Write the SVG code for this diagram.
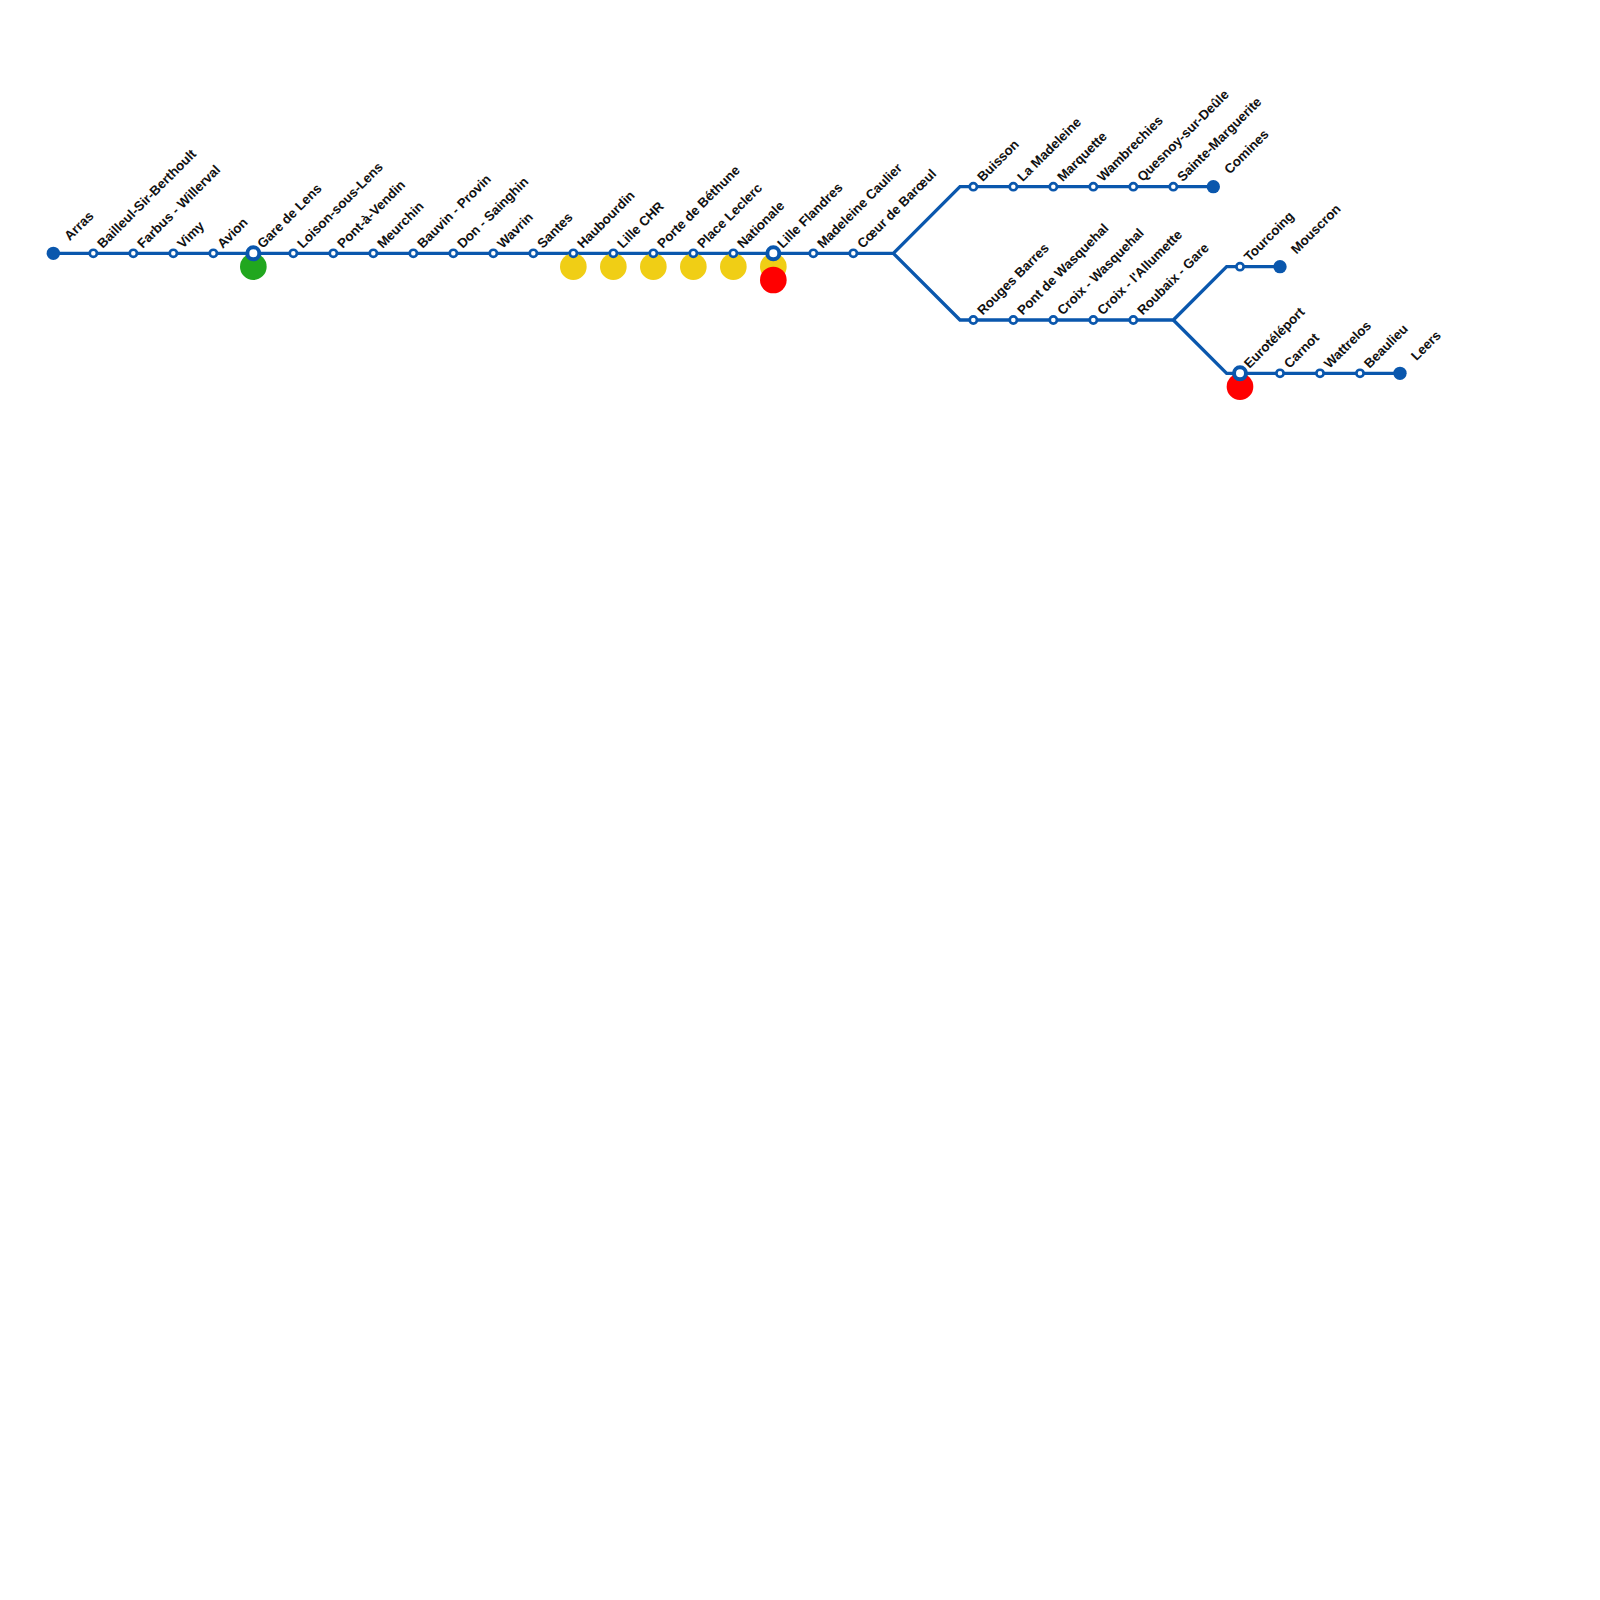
<svg xmlns="http://www.w3.org/2000/svg" width="1600" height="1600" viewBox="0 0 1600 1600">
<style>
.l{fill:none;stroke:#0a57ad;stroke-width:3.33;stroke-linejoin:miter}
.s{fill:#fff;stroke:#0a57ad;stroke-width:2.67}
.h{fill:#fff;stroke:#0a57ad;stroke-width:4}
.t{fill:#0a57ad}
text{font-family:"Liberation Sans",Arial,sans-serif;font-size:13.33px;font-weight:bold;fill:#111;text-rendering:geometricPrecision;opacity:.999}
</style>
<rect width="1600" height="1600" fill="#fff"/>
<g id="connectors">
<path class="l" d="M53.33 253.33H893.33L960 186.67H1213.33"/>
<path class="l" d="M893.33 253.33L960 320H1173.33L1226.67 266.67H1280"/>
<path class="l" d="M1173.33 320L1226.67 373.33H1400"/>
</g>
<g id="transfers">
<circle cx="253.33" cy="266.67" r="13.33" fill="#21a71f"/>
<circle cx="573.33" cy="266.67" r="13.33" fill="#f0ce15"/>
<circle cx="613.33" cy="266.67" r="13.33" fill="#f0ce15"/>
<circle cx="653.33" cy="266.67" r="13.33" fill="#f0ce15"/>
<circle cx="693.33" cy="266.67" r="13.33" fill="#f0ce15"/>
<circle cx="733.33" cy="266.67" r="13.33" fill="#f0ce15"/>
<circle cx="773.33" cy="266.67" r="13.33" fill="#f0ce15"/>
<circle cx="773.33" cy="280" r="13.33" fill="#ff0000"/>
<circle cx="1240" cy="386.67" r="13.33" fill="#ff0000"/>
</g>
<g id="n1"><circle class="t" cx="53.33" cy="253.33" r="6.67"/><text transform="translate(69.8 241.3) rotate(-45)">Arras</text></g>
<g id="n2"><circle class="s" cx="93.33" cy="253.33" r="3.6"/><text transform="translate(102.7 249) rotate(-45)">Bailleul-Sir-Berthoult</text></g>
<g id="n3"><circle class="s" cx="133.33" cy="253.33" r="3.6"/><text transform="translate(142.7 249) rotate(-45)">Farbus - Willerval</text></g>
<g id="n4"><circle class="s" cx="173.33" cy="253.33" r="3.6"/><text transform="translate(182.7 249) rotate(-45)">Vimy</text></g>
<g id="n5"><circle class="s" cx="213.33" cy="253.33" r="3.6"/><text transform="translate(222.7 249) rotate(-45)">Avion</text></g>
<g id="n6"><circle class="h" cx="253.33" cy="253.33" r="6"/><text transform="translate(262.7 249) rotate(-45)">Gare de Lens</text></g>
<g id="n7"><circle class="s" cx="293.33" cy="253.33" r="3.6"/><text transform="translate(302.7 249) rotate(-45)">Loison-sous-Lens</text></g>
<g id="n8"><circle class="s" cx="333.33" cy="253.33" r="3.6"/><text transform="translate(342.7 249) rotate(-45)">Pont-à-Vendin</text></g>
<g id="n9"><circle class="s" cx="373.33" cy="253.33" r="3.6"/><text transform="translate(382.7 249) rotate(-45)">Meurchin</text></g>
<g id="n10"><circle class="s" cx="413.33" cy="253.33" r="3.6"/><text transform="translate(422.7 249) rotate(-45)">Bauvin - Provin</text></g>
<g id="n11"><circle class="s" cx="453.33" cy="253.33" r="3.6"/><text transform="translate(462.7 249) rotate(-45)">Don - Sainghin</text></g>
<g id="n12"><circle class="s" cx="493.33" cy="253.33" r="3.6"/><text transform="translate(502.7 249) rotate(-45)">Wavrin</text></g>
<g id="n13"><circle class="s" cx="533.33" cy="253.33" r="3.6"/><text transform="translate(542.7 249) rotate(-45)">Santes</text></g>
<g id="n14"><circle class="s" cx="573.33" cy="253.33" r="3.6"/><text transform="translate(582.7 249) rotate(-45)">Haubourdin</text></g>
<g id="n15"><circle class="s" cx="613.33" cy="253.33" r="3.6"/><text transform="translate(622.7 249) rotate(-45)">Lille CHR</text></g>
<g id="n16"><circle class="s" cx="653.33" cy="253.33" r="3.6"/><text transform="translate(662.7 249) rotate(-45)">Porte de Béthune</text></g>
<g id="n17"><circle class="s" cx="693.33" cy="253.33" r="3.6"/><text transform="translate(702.7 249) rotate(-45)">Place Leclerc</text></g>
<g id="n18"><circle class="s" cx="733.33" cy="253.33" r="3.6"/><text transform="translate(742.7 249) rotate(-45)">Nationale</text></g>
<g id="n19"><circle class="h" cx="773.33" cy="253.33" r="6"/><text transform="translate(782.7 249) rotate(-45)">Lille Flandres</text></g>
<g id="n20"><circle class="s" cx="813.33" cy="253.33" r="3.6"/><text transform="translate(822.7 249) rotate(-45)">Madeleine Caulier</text></g>
<g id="n21"><circle class="s" cx="853.33" cy="253.33" r="3.6"/><text transform="translate(862.7 249) rotate(-45)">Cœur de Barœul</text></g>
<g id="n22"><circle class="s" cx="973.33" cy="186.67" r="3.6"/><text transform="translate(982.7 182.3) rotate(-45)">Buisson</text></g>
<g id="n23"><circle class="s" cx="1013.33" cy="186.67" r="3.6"/><text transform="translate(1022.7 182.3) rotate(-45)">La Madeleine</text></g>
<g id="n24"><circle class="s" cx="1053.33" cy="186.67" r="3.6"/><text transform="translate(1062.7 182.3) rotate(-45)">Marquette</text></g>
<g id="n25"><circle class="s" cx="1093.33" cy="186.67" r="3.6"/><text transform="translate(1102.7 182.3) rotate(-45)">Wambrechies</text></g>
<g id="n26"><circle class="s" cx="1133.33" cy="186.67" r="3.6"/><text transform="translate(1142.7 182.3) rotate(-45)">Quesnoy-sur-Deûle</text></g>
<g id="n27"><circle class="s" cx="1173.33" cy="186.67" r="3.6"/><text transform="translate(1182.7 182.3) rotate(-45)">Sainte-Marguerite</text></g>
<g id="n28"><circle class="t" cx="1213.33" cy="186.67" r="6.67"/><text transform="translate(1229.8 174.7) rotate(-45)">Comines</text></g>
<g id="n29"><circle class="s" cx="973.33" cy="320" r="3.6"/><text transform="translate(982.7 315.7) rotate(-45)">Rouges Barres</text></g>
<g id="n30"><circle class="s" cx="1013.33" cy="320" r="3.6"/><text transform="translate(1022.7 315.7) rotate(-45)">Pont de Wasquehal</text></g>
<g id="n31"><circle class="s" cx="1053.33" cy="320" r="3.6"/><text transform="translate(1062.7 315.7) rotate(-45)">Croix - Wasquehal</text></g>
<g id="n32"><circle class="s" cx="1093.33" cy="320" r="3.6"/><text transform="translate(1102.7 315.7) rotate(-45)">Croix - l'Allumette</text></g>
<g id="n33"><circle class="s" cx="1133.33" cy="320" r="3.6"/><text transform="translate(1142.7 315.7) rotate(-45)">Roubaix - Gare</text></g>
<g id="n34"><circle class="s" cx="1240" cy="266.67" r="3.6"/><text transform="translate(1249.4 262.3) rotate(-45)">Tourcoing</text></g>
<g id="n35"><circle class="t" cx="1280" cy="266.67" r="6.67"/><text transform="translate(1296.5 254.7) rotate(-45)">Mouscron</text></g>
<g id="n36"><circle class="h" cx="1240" cy="373.33" r="6"/><text transform="translate(1249.4 369) rotate(-45)">Eurotéléport</text></g>
<g id="n37"><circle class="s" cx="1280" cy="373.33" r="3.6"/><text transform="translate(1289.4 369) rotate(-45)">Carnot</text></g>
<g id="n38"><circle class="s" cx="1320" cy="373.33" r="3.6"/><text transform="translate(1329.4 369) rotate(-45)">Wattrelos</text></g>
<g id="n39"><circle class="s" cx="1360" cy="373.33" r="3.6"/><text transform="translate(1369.4 369) rotate(-45)">Beaulieu</text></g>
<g id="n40"><circle class="t" cx="1400" cy="373.33" r="6.67"/><text transform="translate(1416.5 361.3) rotate(-45)">Leers</text></g>
</svg>
